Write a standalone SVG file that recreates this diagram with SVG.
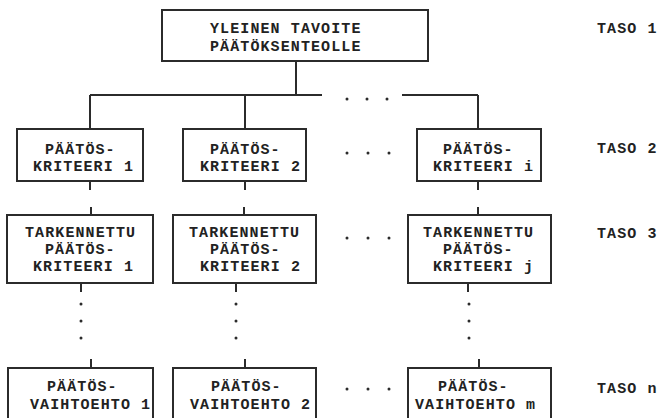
<svg xmlns="http://www.w3.org/2000/svg" width="663" height="418" viewBox="0 0 663 418">
  <style>
    .box { fill: #fff; stroke: #2b2b2b; stroke-width: 2; }
    .wire { fill: none; stroke: #2b2b2b; stroke-width: 2; }
    .dot { fill: #2b2b2b; }
    text { font-family: "Liberation Mono", "DejaVu Sans Mono", monospace; font-size: 15px; letter-spacing: 1.1px; font-weight: bold; fill: #222; }
  </style>
  <rect width="663" height="418" fill="#fff"/>

  <!-- connectors -->
  <g id="connectors">
    <path class="wire" d="M296 61 V95 M90 95 H322 M402 95 H478 M90 95 V129 M245 95 V129 M478 95 V129"/>
    <path class="wire" d="M90 181 V190 M245 181 V190 M478 181 V190"/>
    <path class="wire" d="M91 207 V215 M244 207 V215 M478 207 V215"/>
    <path class="wire" d="M81 283 V292 M236 283 V292 M468 283 V292"/>
    <path class="wire" d="M91 359 V368 M245 359 V368 M479 359 V368"/>
    <!-- continuation dots -->
    <circle class="dot" cx="347" cy="99" r="1.5"/><circle class="dot" cx="367" cy="99" r="1.5"/><circle class="dot" cx="387" cy="99" r="1.5"/>
    <circle class="dot" cx="81" cy="304" r="1.5"/><circle class="dot" cx="81" cy="321" r="1.5"/><circle class="dot" cx="81" cy="338" r="1.5"/>
    <circle class="dot" cx="236" cy="304" r="1.5"/><circle class="dot" cx="236" cy="321" r="1.5"/><circle class="dot" cx="236" cy="338" r="1.5"/>
    <circle class="dot" cx="469" cy="304" r="1.5"/><circle class="dot" cx="469" cy="321" r="1.5"/><circle class="dot" cx="469" cy="338" r="1.5"/>
  </g>

  <!-- level 1 -->
  <g id="goal">
    <rect class="box" x="162" y="10" width="266" height="51"/>
    <text x="210" y="33">YLEINEN TAVOITE</text>
    <text x="210" y="51">PÄÄTÖKSENTEOLLE</text>
  </g>

  <!-- level 2 -->
  <g id="criterion-1">
    <rect class="box" x="17" y="129" width="126" height="52"/>
    <text x="45" y="154">PÄÄTÖS-</text>
    <text x="33" y="171">KRITEERI 1</text>
  </g>
  <g id="criterion-2">
    <rect class="box" x="183" y="129" width="123" height="52"/>
    <text x="210" y="154">PÄÄTÖS-</text>
    <text x="200" y="171">KRITEERI 2</text>
  </g>
  <g id="criterion-i">
    <rect class="box" x="417" y="129" width="124" height="52"/>
    <text x="443" y="154">PÄÄTÖS-</text>
    <text x="433" y="171">KRITEERI i</text>
  </g>
  <g id="dots-2">
    <circle class="dot" cx="347" cy="153" r="1.5"/><circle class="dot" cx="368" cy="153" r="1.5"/><circle class="dot" cx="389" cy="153" r="1.5"/>
  </g>

  <!-- level 3 -->
  <g id="refined-1">
    <rect class="box" x="7" y="215" width="146" height="68"/>
    <text x="25" y="237">TARKENNETTU</text>
    <text x="45" y="254">PÄÄTÖS-</text>
    <text x="33" y="271">KRITEERI 1</text>
  </g>
  <g id="refined-2">
    <rect class="box" x="173" y="215" width="143" height="68"/>
    <text x="189" y="237">TARKENNETTU</text>
    <text x="210" y="254">PÄÄTÖS-</text>
    <text x="200" y="271">KRITEERI 2</text>
  </g>
  <g id="refined-j">
    <rect class="box" x="408" y="215" width="143" height="68"/>
    <text x="423" y="237">TARKENNETTU</text>
    <text x="443" y="254">PÄÄTÖS-</text>
    <text x="433" y="271">KRITEERI j</text>
  </g>
  <g id="dots-3">
    <circle class="dot" cx="347" cy="238" r="1.5"/><circle class="dot" cx="368" cy="238" r="1.5"/><circle class="dot" cx="389" cy="238" r="1.5"/>
  </g>

  <!-- level n -->
  <g id="alternative-1">
    <rect class="box" x="8" y="368" width="145" height="56"/>
    <text x="47" y="391">PÄÄTÖS-</text>
    <text x="30" y="409">VAIHTOEHTO 1</text>
  </g>
  <g id="alternative-2">
    <rect class="box" x="173" y="368" width="143" height="56"/>
    <text x="211" y="391">PÄÄTÖS-</text>
    <text x="190" y="409">VAIHTOEHTO 2</text>
  </g>
  <g id="alternative-m">
    <rect class="box" x="408" y="368" width="143" height="56"/>
    <text x="438" y="391">PÄÄTÖS-</text>
    <text x="415" y="409">VAIHTOEHTO m</text>
  </g>
  <g id="dots-n">
    <circle class="dot" cx="347" cy="389" r="1.5"/><circle class="dot" cx="368" cy="389" r="1.5"/><circle class="dot" cx="389" cy="389" r="1.5"/>
  </g>

  <!-- level labels -->
  <g id="levels">
    <text x="597" y="33">TASO 1</text>
    <text x="597" y="153">TASO 2</text>
    <text x="597" y="238">TASO 3</text>
    <text x="597" y="393">TASO n</text>
  </g>
</svg>
